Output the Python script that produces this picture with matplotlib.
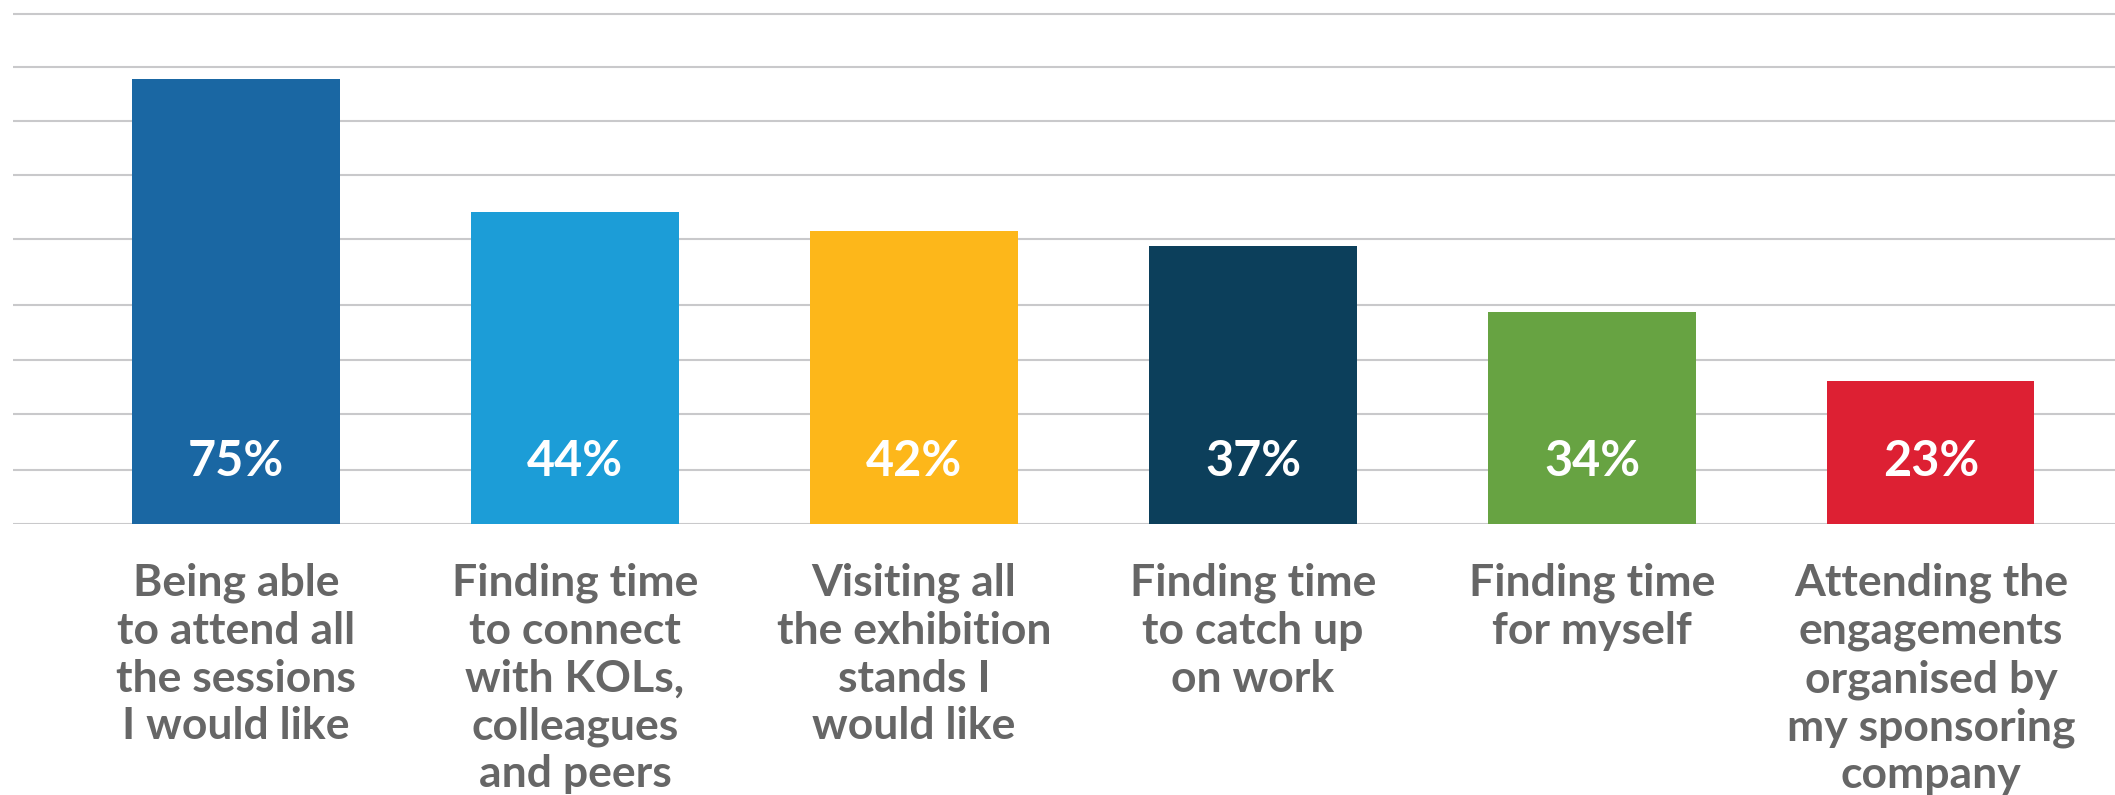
import matplotlib
matplotlib.use("Agg")
import matplotlib.pyplot as plt

# ---- data ----
categories = [
    "Being able\nto attend all\nthe sessions\nI would like",
    "Finding time\nto connect\nwith KOLs,\ncolleagues\nand peers",
    "Visiting all\nthe exhibition\nstands I\nwould like",
    "Finding time\nto catch up\non work",
    "Finding time\nfor myself",
    "Attending the\nengagements\norganised by\nmy sponsoring\ncompany",
]
percent_labels = [75, 44, 42, 37, 34, 23]
# bar heights as drawn in the picture (same vertical units, 75% bar = 75)
bar_heights = [75, 52.5, 49.3, 46.8, 35.7, 24.1]
# decorative grid lines as drawn in the picture (same vertical units)
grid_levels = [0, 9.1, 18.5, 27.6, 36.9, 48.0, 58.8, 67.9, 77.0, 86.0]
bar_colors = ["#1a67a3", "#1c9dd7", "#fdb71a", "#0c3f5b", "#67a342", "#dd2033"]

plt.rcParams["font.family"] = ["Lato", "DejaVu Sans"]

W, H, DPI = 2115, 795, 100
fig = plt.figure(figsize=(W / DPI, H / DPI), dpi=DPI)
fig.patch.set_facecolor("white")

base_px = 524
ax = fig.add_axes([13 / W, (H - base_px) / H, 1 - 13 / W, base_px / H])
ax.set_xlim(-0.658, 5.543)
ax.set_ylim(0, 88.29)
for s in ax.spines.values():
    s.set_visible(False)
ax.set_xticks([])
ax.set_yticks([])
ax.patch.set_alpha(0)

for g in grid_levels:
    ax.axhline(g, color="#c9c9cb", linewidth=1.5, zorder=0)

x = list(range(len(categories)))
ax.bar(x, bar_heights, width=0.611, color=bar_colors, zorder=2)

for xi, p in zip(x, percent_labels):
    ax.text(xi, 10.6, f"{p}%", ha="center", va="center", color="white",
            fontsize=35, fontweight="bold", zorder=3)

for xi, c in zip(x, categories):
    ax.annotate(c, xy=(xi, 0), xytext=(0, -28), textcoords="offset points",
                ha="center", va="top", color="#666666", fontsize=32,
                fontweight="bold", linespacing=1.23, annotation_clip=False)

fig.savefig("out.png", dpi=DPI, facecolor="white")
